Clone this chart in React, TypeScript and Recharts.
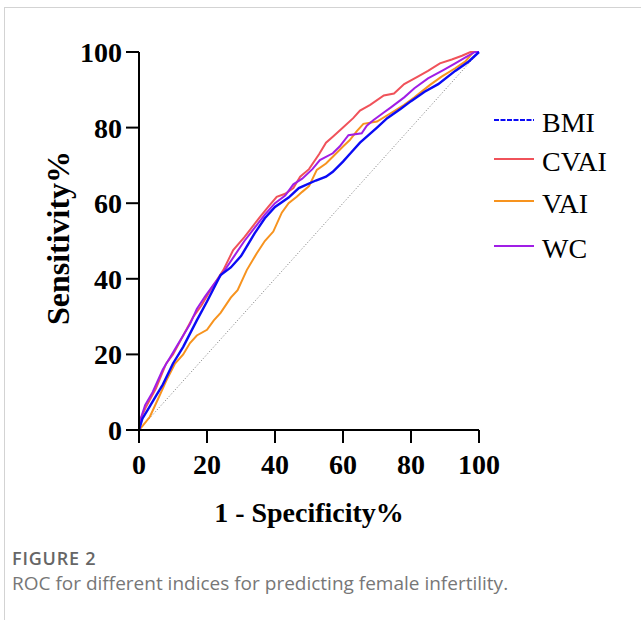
import { LineChart, Line, XAxis, YAxis, ReferenceLine } from 'recharts'

// ROC points as [1 - specificity %, sensitivity %]
const BMI: [number, number][] = [
  [0, 0], [1, 3], [3, 6], [5, 9], [7, 12], [10, 17.6], [13, 22], [17, 29], [20, 34],
  [24, 41], [27, 43], [30, 46], [34, 52], [37, 56], [40, 59], [44, 61.5], [47, 64],
  [52, 66], [55, 67], [57, 68.3], [60, 71], [62, 73], [65, 76], [67, 77.6], [70, 80],
  [73, 82.5], [77, 85], [80, 87], [84, 89.5], [88, 91.5], [93, 95], [97, 97.5], [100, 100],
]
const CVAI: [number, number][] = [
  [0, 0], [0.3, 2.6], [2, 6], [5, 11], [8, 17.6], [10, 20], [13, 25], [16, 30], [18.4, 33],
  [21, 37], [24.8, 42.3], [27.7, 47.6], [31, 51], [35.6, 56.4], [38, 59], [40.5, 61.7],
  [43, 62.5], [45.4, 64], [47.4, 67], [50, 69], [53, 73], [55, 76], [57, 77.6], [60, 80],
  [63, 82.5], [65, 84.5], [68, 86], [72, 88.5], [75, 89], [78, 91.5], [82, 93.5], [85, 95],
  [88.5, 97], [92, 98], [95, 99], [97.5, 100], [100, 100],
]
const VAI: [number, number][] = [
  [0, 0], [1, 1], [3.2, 3.5], [6, 9], [8, 13], [10.6, 17.6], [13, 20], [15, 23], [17, 25],
  [20, 26.5], [22, 29], [24, 31], [27, 35], [29, 37], [31.7, 42.3], [34.6, 46.7], [37, 50],
  [39.5, 52.5], [42, 57.5], [44, 60], [46.4, 61.7], [48, 63], [50, 64.5], [52.3, 68.8],
  [55, 70.5], [57, 72.3], [60, 75], [62, 76.7], [64, 79], [66, 81], [70, 81.6], [74, 83.8],
  [78, 86], [81, 88], [85.6, 91.3], [89, 93.5], [93, 95.7], [96, 97.5], [98.3, 100], [100, 100],
]
const WC: [number, number][] = [
  [0, 0], [0.5, 3], [1.8, 6.6], [4, 10], [7, 16], [9, 19], [11, 22], [13, 25], [15, 28],
  [17, 32], [19.4, 35.3], [22, 38.5], [25, 42], [28, 46], [31, 50], [34, 53.5], [37, 57],
  [40, 60], [43, 62], [45.4, 65], [48, 66.5], [51, 69], [53.2, 71.4], [57, 73.2], [59, 75],
  [61.6, 78], [65.5, 78.5], [67, 80.5], [69, 82], [72, 84], [74, 85.3], [78, 88], [81, 90.4],
  [85, 93], [89.5, 95.2], [93, 97], [96.4, 98.8], [98.8, 100], [100, 100],
]

const TICKS = [0, 20, 40, 60, 80, 100]
const NAMES = ['BMI', 'CVAI', 'VAI', 'WC']
const COLORS: Record<string, string> = {
  BMI: '#0b0bf5',
  CVAI: '#f0525a',
  VAI: '#f7931e',
  WC: '#a01ee6',
}
const SERIES: Record<string, [number, number][]> = { BMI, CVAI, VAI, WC }
const DRAW_ORDER = ['VAI', 'CVAI', 'WC', 'BMI']

const SERIF = '"Liberation Serif", "Times New Roman", serif'

const toRows = (pts: [number, number][]) => pts.map(([x, y]) => ({ x, y }))

function XTitle({ viewBox }: any) {
  const cx = viewBox.x + viewBox.width / 2
  return (
    <text x={cx} y={522} textAnchor="middle" fontFamily={SERIF} fontWeight="bold" fontSize={28} fill="#000">
      1 - Specificity%
    </text>
  )
}

function YTitle({ viewBox }: any) {
  const cy = viewBox.y + viewBox.height / 2 - 3
  return (
    <text
      x={69}
      y={cy}
      transform={`rotate(-90 69 ${cy})`}
      textAnchor="middle"
      fontFamily={SERIF}
      fontWeight="bold"
      fontSize={32}
      fill="#000"
    >
      Sensitivity%
    </text>
  )
}

const tickStyle = { fill: '#000', fontSize: 28, fontWeight: 'bold', fontFamily: SERIF }
const LEGEND_TOP = [120, 159, 201, 246]

export default function App() {
  return (
    <div style={{ position: 'relative', width: 641, height: 620, background: '#fff', overflow: 'hidden' }}>
      <style>{'body{margin:0}'}</style>
      <div
        style={{
          position: 'absolute',
          left: 4,
          top: 7,
          right: -2,
          bottom: -2,
          borderTop: '1px solid #d3d3d3',
          borderLeft: '1px solid #d3d3d3',
        }}
      />
      <div style={{ position: 'absolute', left: 0, top: 0 }}>
        <LineChart width={641} height={540} margin={{ top: 52, right: 162, bottom: 0, left: 0 }}>
          <XAxis
            dataKey="x"
            type="number"
            domain={[0, 100]}
            ticks={TICKS}
            height={110}
            tick={tickStyle}
            tickSize={13}
            tickMargin={11}
            axisLine={{ stroke: '#000', strokeWidth: 2 }}
            tickLine={{ stroke: '#000', strokeWidth: 2 }}
            label={<XTitle />}
          />
          <YAxis
            dataKey="y"
            type="number"
            domain={[0, 100]}
            ticks={TICKS}
            width={139}
            tick={tickStyle}
            tickSize={13}
            tickMargin={4}
            axisLine={{ stroke: '#000', strokeWidth: 2 }}
            tickLine={{ stroke: '#000', strokeWidth: 2 }}
            label={<YTitle />}
          />
          <ReferenceLine
            segment={[{ x: 0, y: 0 }, { x: 100, y: 100 }]}
            stroke="#777"
            strokeWidth={1}
            strokeDasharray="1 2"
          />
          {DRAW_ORDER.map((name) => (
            <Line
              key={name}
              data={toRows(SERIES[name])}
              dataKey="y"
              type="linear"
              stroke={COLORS[name]}
              strokeWidth={name === 'BMI' ? 2.4 : 2}
              dot={false}
              isAnimationActive={false}
            />
          ))}
        </LineChart>
      </div>
      {NAMES.map((name, i) => (
        <div key={name} style={{ position: 'absolute', left: 494, top: LEGEND_TOP[i] - 20, height: 40, display: 'flex', alignItems: 'center' }}>
          <svg width={40} height={40} style={{ display: 'block' }}>
            <line
              x1={0}
              x2={40}
              y1={20}
              y2={20}
              stroke={COLORS[name]}
              strokeWidth={2}
              strokeDasharray={name === 'BMI' ? '5 1.5' : undefined}
            />
          </svg>
          <span style={{ marginLeft: 8, fontFamily: SERIF, fontSize: 28, color: '#000', lineHeight: '40px', position: 'relative', top: 3 }}>
            {name}
          </span>
        </div>
      ))}
      <div
        style={{
          position: 'absolute',
          left: 12,
          top: 546,
          fontFamily: '"Open Sans", sans-serif',
          fontSize: 18,
          fontWeight: 600,
          letterSpacing: 0.8,
          color: '#666',
        }}
      >
        FIGURE 2
      </div>
      <div
        style={{
          position: 'absolute',
          left: 12,
          top: 570,
          fontFamily: '"Open Sans", sans-serif',
          fontSize: 19,
          color: '#777',
        }}
      >
        ROC for different indices for predicting female infertility.
      </div>
    </div>
  )
}
